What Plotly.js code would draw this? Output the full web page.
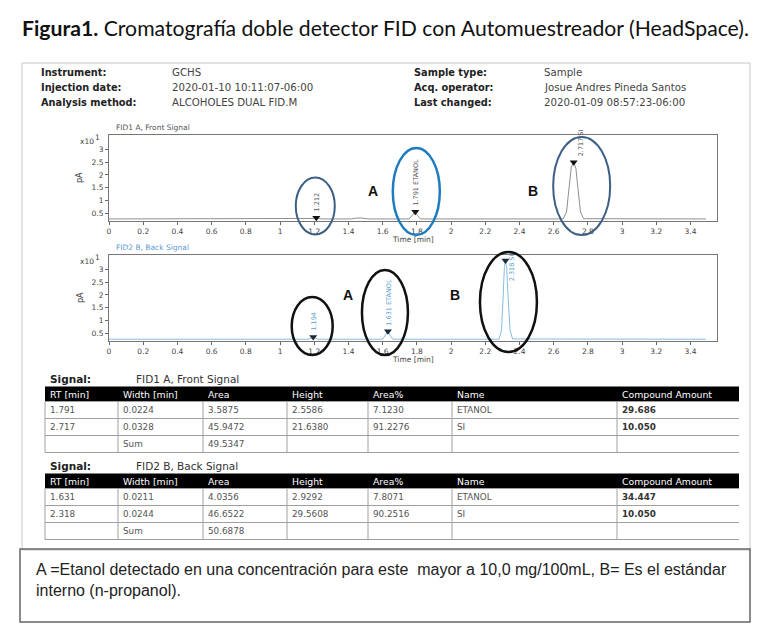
<!DOCTYPE html>
<html><head><meta charset="utf-8">
<script src="https://cdn.plot.ly/plotly-3.0.1.min.js"></script>
<style>html,body{margin:0;padding:0;background:#fff}#chart{width:768px;height:640px}</style>
</head><body><div id="chart"></div>
<script>
// ================= DATA =================
const timeTicks = [0,0.2,0.4,0.6,0.8,1,1.2,1.4,1.6,1.8,2,2.2,2.4,2.6,2.8,3,3.2,3.4];
const signalTicks = [0.5,1,1.5,2,2.5,3];

// FID1 A, Front Signal (time in min, signal in x10 pA)
const frontTime   = [0, 1.18, 1.20, 1.212, 1.225, 1.245, 1.42, 1.44, 1.47, 1.50, 1.52, 1.755, 1.772, 1.791, 1.806, 1.822, 2.655, 2.675, 2.69, 2.703, 2.717, 2.73, 2.743, 2.757, 2.775, 3.49];
const frontSignal = [0.28, 0.28, 0.30, 0.33, 0.30, 0.28, 0.28, 0.31, 0.32, 0.31, 0.28, 0.28, 0.40, 0.56, 0.40, 0.28, 0.28, 0.55, 1.50, 2.30, 2.50, 2.25, 1.40, 0.55, 0.29, 0.28];
// FID2 B, Back Signal
const backTime   = [0, 1.165, 1.182, 1.194, 1.206, 1.222, 1.600, 1.615, 1.631, 1.645, 1.66, 2.28, 2.295, 2.305, 2.312, 2.318, 2.325, 2.333, 2.345, 2.36, 3.49];
const backSignal = [0.27, 0.27, 0.31, 0.36, 0.31, 0.27, 0.27, 0.40, 0.58, 0.40, 0.27, 0.27, 0.60, 2.00, 3.10, 3.35, 3.10, 2.00, 0.60, 0.28, 0.27];

const frontPeakRT    = [1.212, 1.791, 2.717];
const frontPeakApex  = [0.33, 0.56, 2.50];
const frontPeakLabel = ['1.212', '1.791 ETANOL', '2.717 SI'];
const backPeakRT     = [1.194, 1.631, 2.318];
const backPeakApex   = [0.36, 0.58, 3.35];
const backPeakLabel  = ['1.194', '1.631 ETANOL', '2.318 SI'];

// Report tables
const tableHeader = ['RT [min]','Width [min]','Area','Height','Area%','Name','Compound Amount'];
const frontRT      = ['1.791','2.717',''];
const frontWidth   = ['0.0224','0.0328','Sum'];
const frontArea    = ['3.5875','45.9472','49.5347'];
const frontHeight  = ['2.5586','21.6380',''];
const frontAreaPct = ['7.1230','91.2276',''];
const frontName    = ['ETANOL','SI',''];
const frontAmount  = ['29.686','10.050',''];
const backRT      = ['1.631','2.318',''];
const backWidth   = ['0.0211','0.0244','Sum'];
const backArea    = ['4.0356','46.6522','50.6878'];
const backHeight  = ['2.9292','29.5608',''];
const backAreaPct = ['7.8071','90.2516',''];
const backName    = ['ETANOL','SI',''];
const backAmount  = ['34.447','10.050',''];

const infoLabelsLeft  = ['Instrument:','Injection date:','Analysis method:'];
const infoValuesLeft  = ['GCHS','2020-01-10 10:11:07-06:00','ALCOHOLES DUAL FID.M'];
const infoLabelsRight = ['Sample type:','Acq. operator:','Last changed:'];
const infoValuesRight = ['Sample','Josue Andres Pineda Santos','2020-01-09 08:57:23-06:00'];

const titleBold = 'Figura1.';
const titleText = ' Cromatografía doble detector FID con Automuestreador (HeadSpace).';
const noteText = 'A =Etanol detectado en una concentración para este  mayor a 10,0 mg/100mL, B= Es el estándar<br>interno (n-propanol).';

// ================= LAYOUT HELPERS =================
const W = 768, H = 640;
const PX = x => x / W;
const PY = y => 1 - y / H;
const plotL = 109, plotR = 717;
const xRange = [0, 3.555];
const yRange = [0.2, 3.56];
const panels = [{top:135, bot:221}, {top:255, bot:341}];
const tToPx = t => plotL + (t - xRange[0]) / (xRange[1] - xRange[0]) * (plotR - plotL);

const SANS = 'DejaVu Sans, sans-serif';
const ARIAL = 'Liberation Sans, Arial, sans-serif';

function axisX(anchor, dom) {
  return {domain: dom, range: xRange, anchor: anchor, tickvals: timeTicks, ticktext: timeTicks.map(String),
    ticks: 'outside', ticklen: 3, tickcolor: '#666', showline: true, mirror: true, linecolor: '#777', linewidth: 1,
    showgrid: false, zeroline: false, tickfont: {family: SANS, size: 7.5, color: '#444'}, fixedrange: true};
}
function axisY(anchor, p) {
  return {domain: [PY(p.bot), PY(p.top)], range: yRange, anchor: anchor, tickvals: signalTicks, ticktext: signalTicks.map(String),
    ticks: 'outside', ticklen: 3, tickcolor: '#666', showline: true, mirror: true, linecolor: '#777', linewidth: 1,
    showgrid: false, zeroline: false, tickfont: {family: SANS, size: 7.5, color: '#444'}, fixedrange: true};
}
const xDom = [PX(plotL), PX(plotR)];

const traces = [
  {type: 'scatter', mode: 'lines', x: frontTime, y: frontSignal, xaxis: 'x', yaxis: 'y',
   line: {color: '#8f8f8f', width: 1}, hoverinfo: 'skip'},
  {type: 'scatter', mode: 'markers', x: frontPeakRT, y: frontPeakApex, xaxis: 'x', yaxis: 'y',
   marker: {symbol: 'triangle-down', size: 7, color: '#111'}, hoverinfo: 'skip', cliponaxis: false},
  {type: 'scatter', mode: 'lines', x: backTime, y: backSignal, xaxis: 'x2', yaxis: 'y2',
   line: {color: '#86bddf', width: 1}, hoverinfo: 'skip'},
  {type: 'scatter', mode: 'markers', x: backPeakRT, y: backPeakApex, xaxis: 'x2', yaxis: 'y2',
   marker: {symbol: 'triangle-down', size: 7, color: '#1a2a3a'}, hoverinfo: 'skip', cliponaxis: false}
];

const ann = [];
const shapes = [];
function txt(text, x, y, opts) {
  ann.push(Object.assign({text: text, x: PX(x), y: PY(y), xref: 'paper', yref: 'paper', showarrow: false,
    xanchor: 'left', yanchor: 'middle', font: {family: SANS, size: 10, color: '#333'}}, opts || {}));
}
function line(x0, y0, x1, y1, color, width) {
  shapes.push({type: 'line', xref: 'paper', yref: 'paper', x0: PX(x0), y0: PY(y0), x1: PX(x1), y1: PY(y1),
    line: {color: color, width: width}});
}

// ---- Report tables built from the arrays ----
const colEdges = [45, 118, 203, 287, 368, 452, 617, 739];
const headerH = 15, rowH = 17;
function buildTable(cols, top) {
  const nRows = cols[0].length;
  shapes.push({type: 'rect', xref: 'paper', yref: 'paper', x0: PX(colEdges[0]), x1: PX(colEdges[colEdges.length - 1]),
    y0: PY(top + headerH), y1: PY(top), fillcolor: '#000', line: {width: 0}});
  tableHeader.forEach((h, c) => txt(h, colEdges[c] + 3, top + headerH / 2,
    {font: {family: SANS, size: 9.3, color: '#fff'}}));
  const bodyTop = top + headerH;
  for (let r = 0; r <= nRows; r++) line(colEdges[0], bodyTop + r * rowH, colEdges[colEdges.length - 1], bodyTop + r * rowH, '#a0a0a0', 1);
  for (let c = 0; c < colEdges.length - 1; c++) line(colEdges[c], bodyTop, colEdges[c], bodyTop + nRows * rowH, '#a0a0a0', 1);
  cols.forEach((col, c) => col.forEach((v, r) => {
    if (v === '') return;
    const isAmount = c === cols.length - 1;
    txt(isAmount ? '<b>' + v + '</b>' : v, colEdges[c] + 3, bodyTop + r * rowH + rowH / 2,
      {font: {family: SANS, size: 8.8, color: isAmount ? '#333' : '#555'}});
  }));
}
buildTable([frontRT, frontWidth, frontArea, frontHeight, frontAreaPct, frontName, frontAmount], 386.5);
buildTable([backRT, backWidth, backArea, backHeight, backAreaPct, backName, backAmount], 473.5);

// Title
txt('<b>' + titleBold + '</b>' + titleText, 20, 28, {font: {family: 'Lato, Open Sans, sans-serif', size: 21.2, color: '#111'}});

// Info block
const infoRows = [73, 88, 103];
infoRows.forEach((y, i) => {
  txt('<b>' + infoLabelsLeft[i] + '</b>', 39, y, {font: {family: SANS, size: 9.8, color: '#222'}});
  txt(infoValuesLeft[i], 170, y, {font: {family: SANS, size: 10.2, color: '#444'}});
  txt('<b>' + infoLabelsRight[i] + '</b>', 412, y, {font: {family: SANS, size: 9.8, color: '#222'}});
  txt(infoValuesRight[i], 542, y, {font: {family: SANS, size: 10.2, color: '#444'}});
});

// Panel decorations
const panelTitles = ['FID1 A, Front Signal', 'FID2 B, Back Signal'];
const panelTitleColors = ['#555', '#5b9bd5'];
panels.forEach((p, i) => {
  txt(panelTitles[i], 114, p.top - 7, {font: {family: SANS, size: 7.5, color: panelTitleColors[i]}});
  txt('x10', 96, p.top + 6, {xanchor: 'right', font: {family: SANS, size: 7.5, color: '#444'}});
  txt('1', 102, p.top + 2, {xanchor: 'right', font: {family: SANS, size: 7.5, color: '#444'}});
  txt('pA', 80, p.top + 43, {xanchor: 'center', textangle: -90, font: {family: SANS, size: 8, color: '#444'}});
  txt('Time [min]', 413, p.bot + 18.5, {xanchor: 'center', font: {family: SANS, size: 7.5, color: '#444'}});
});

// Letters A / B
txt('<b>A</b>', 373, 191, {xanchor: 'center', font: {family: ARIAL, size: 14, color: '#111'}});
txt('<b>B</b>', 533, 191, {xanchor: 'center', font: {family: ARIAL, size: 14, color: '#111'}});
txt('<b>A</b>', 348, 295, {xanchor: 'center', font: {family: ARIAL, size: 14, color: '#111'}});
txt('<b>B</b>', 455, 295, {xanchor: 'center', font: {family: ARIAL, size: 14, color: '#111'}});

// Peak labels (rotated)
const frontLabelStyle = [{dx: 1, dy: 4, anchor: 'bottom'}, {dx: 1, dy: 4, anchor: 'bottom'}, {dx: 7, dy: 4, anchor: 'bottom'}];
const backLabelStyle  = [{dx: 1, dy: 4, anchor: 'bottom'}, {dx: 1, dy: 4, anchor: 'bottom'}, {dx: 6, dy: 8, anchor: 'top'}];
function peakLabels(rts, apex, labels, styles, xr, yr, color) {
  rts.forEach((t, i) => {
    ann.push({text: labels[i], x: t, y: apex[i], xref: xr, yref: yr, showarrow: false, textangle: -90,
      xanchor: 'center', yanchor: styles[i].anchor, xshift: styles[i].dx, yshift: styles[i].dy,
      font: {family: SANS, size: 6.5, color: color}});
  });
}
peakLabels(frontPeakRT, frontPeakApex, frontPeakLabel, frontLabelStyle, 'x', 'y', '#555');
peakLabels(backPeakRT, backPeakApex, backPeakLabel, backLabelStyle, 'x2', 'y2', '#5aa0cf');

// Hand-drawn ellipses around peaks
const frontEllipse = [{dx: -1, cy: 206, rx: 19.5, ry: 28.5, c: '#3d5f86', w: 2},
                      {dx: 1, cy: 191.5, rx: 23.5, ry: 43.5, c: '#1f7bc0', w: 2.5},
                      {dx: 8, cy: 186, rx: 28.5, ry: 49, c: '#3d5f86', w: 2}];
const backEllipse = [{dx: -1, cy: 326, rx: 20.5, ry: 29, c: '#111', w: 2.5},
                     {dx: -3, cy: 312.5, rx: 23, ry: 42.5, c: '#111', w: 2.5},
                     {dx: 3, cy: 302, rx: 28.5, ry: 50, c: '#111', w: 2.5}];
function ellipses(rts, specs) {
  rts.forEach((t, i) => {
    const s = specs[i], cx = tToPx(t) + s.dx;
    shapes.push({type: 'circle', xref: 'paper', yref: 'paper', x0: PX(cx - s.rx), x1: PX(cx + s.rx),
      y0: PY(s.cy + s.ry), y1: PY(s.cy - s.ry), line: {color: s.c, width: s.w}, layer: 'above'});
  });
}
ellipses(frontPeakRT, frontEllipse);
ellipses(backPeakRT, backEllipse);

// Table captions
txt('<b>Signal:</b>', 48, 379, {font: {family: SANS, size: 10.5, color: '#222'}});
txt('FID1 A, Front Signal', 134, 379, {font: {family: SANS, size: 10.5, color: '#333'}});
txt('<b>Signal:</b>', 48, 466, {font: {family: SANS, size: 10.5, color: '#222'}});
txt('FID2 B, Back Signal', 134, 466, {font: {family: SANS, size: 10.5, color: '#333'}});

// Frames
shapes.push({type: 'rect', xref: 'paper', yref: 'paper', x0: PX(22), x1: PX(750), y0: PY(550), y1: PY(63),
  line: {color: '#c4c4c4', width: 1}, layer: 'below'});
shapes.push({type: 'rect', xref: 'paper', yref: 'paper', x0: PX(20), x1: PX(750), y0: PY(622), y1: PY(549),
  line: {color: '#666', width: 1.5}, layer: 'below'});

// Note
txt(noteText, 34, 580, {align: 'left', font: {family: ARIAL, size: 16, color: '#222'}});

const layout = {
  width: W, height: H, margin: {l: 0, r: 0, t: 0, b: 0}, paper_bgcolor: '#fff', plot_bgcolor: '#fff',
  showlegend: false,
  xaxis: axisX('y', xDom), yaxis: axisY('x', panels[0]),
  xaxis2: axisX('y2', xDom), yaxis2: axisY('x2', panels[1]),
  annotations: ann, shapes: shapes
};
Plotly.newPlot('chart', traces, layout, {displayModeBar: false, staticPlot: true});
</script></body></html>
